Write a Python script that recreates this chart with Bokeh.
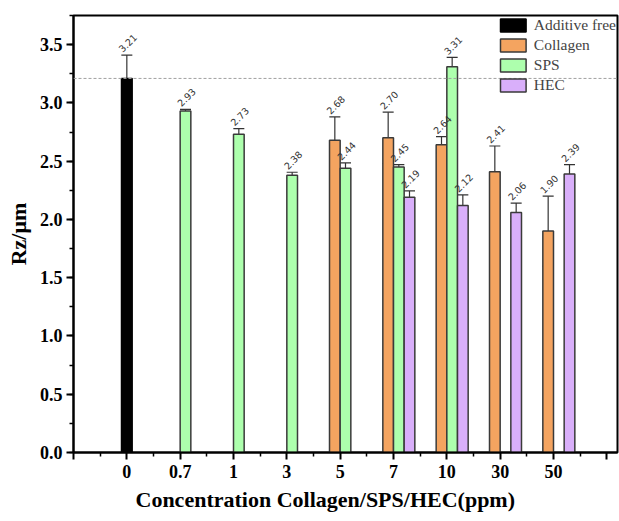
from bokeh.plotting import figure
from bokeh.models import (ColumnDataSource, FixedTicker, Whisker, TeeHead, Span,
                          Legend, LegendItem, NumeralTickFormatter, Range1d, Title)
from bokeh.core.properties import value
from bokeh.embed import file_html
from bokeh.resources import INLINE

# ---- data ----
categories = ["0", "0.7", "1", "3", "5", "7", "10", "30", "50"]

free_conc = ["0"]
free_val = [3.21]
free_err = [0.20]

collagen_conc = ["5", "7", "10", "30", "50"]
collagen_val = [2.68, 2.70, 2.64, 2.41, 1.90]
collagen_err = [0.20, 0.22, 0.07, 0.22, 0.30]

sps_conc = ["0.7", "1", "3", "5", "7", "10"]
sps_val = [2.93, 2.73, 2.38, 2.44, 2.45, 3.31]
sps_err = [0.015, 0.05, 0.025, 0.045, 0.02, 0.08]

hec_conc = ["7", "10", "30", "50"]
hec_val = [2.19, 2.12, 2.06, 2.39]
hec_err = [0.055, 0.09, 0.08, 0.08]

reference_line = 3.21
x_title = "Concentration Collagen/SPS/HEC(ppm)"
y_title = "Rz/μm"

# ---- style ----
SERIF = "Liberation Serif"
BAR_W = 0.2
OUTLINE = "#3a3a3a"

p = figure(width=619, height=521, output_backend="svg", toolbar_location=None,
           x_range=Range1d(-1, 9.2), y_range=Range1d(0, 3.75),
           min_border_left=73, min_border_top=15, min_border_right=2, min_border_bottom=69)
p.xgrid.visible = False
p.ygrid.visible = False
p.outline_line_color = "black"
p.outline_line_width = 2
p.background_fill_color = "white"

def make_src(conc, vals, errs, offset):
    xs = [categories.index(c) + offset for c in conc]
    return ColumnDataSource(dict(
        x=xs, top=vals,
        upper=[v + e for v, e in zip(vals, errs)],
        lower=[v - e for v, e in zip(vals, errs)],
        label=["%.2f" % v for v in vals],
    ))

series = [
    ("Additive free", free_conc, free_val, free_err, 0.0, "#000000"),
    ("Collagen", collagen_conc, collagen_val, collagen_err, -0.1, "#F4A460"),
    ("SPS", sps_conc, sps_val, sps_err, 0.1, "#ADFFAD"),
    ("HEC", hec_conc, hec_val, hec_err, 0.3, "#D9AFFA"),
]

span = Span(location=reference_line, dimension="width", line_color="#a0a0a0",
            line_dash="3 2", line_width=1)
p.add_layout(span)

items = []
sources = []
for name, conc, vals, errs, off, col in series:
    src = make_src(conc, vals, errs, off)
    sources.append(src)
    r = p.vbar(x="x", top="top", width=BAR_W, source=src, fill_color=col,
               line_color=OUTLINE if col != "#000000" else "#000000", line_width=1.5)
    items.append(LegendItem(label=name, renderers=[r]))
    w = Whisker(base="x", upper="upper", lower="lower", source=src,
                line_color="#333333", line_width=1.2,
                upper_head=TeeHead(size=11, line_color="#333333", line_width=1.2),
                lower_head=TeeHead(size=11, line_color="#333333", line_width=1.2))
    p.add_layout(w)

for src in sources:
    p.text(x="x", y="upper", text="label", source=src, angle=0.785,
           text_align="left", text_baseline="bottom", x_offset=-4, y_offset=-2,
           text_font=value("DejaVu Sans"), text_font_size="9.5px", text_color="#333333")

legend = Legend(items=items, location="top_right", margin=1, padding=0, spacing=2,
                glyph_width=32, glyph_height=16, label_height=16,
                label_text_font=SERIF, label_text_font_size="15.5px",
                label_standoff=5, border_line_color=None,
                background_fill_alpha=0)
p.add_layout(legend)

# axes
p.xaxis.ticker = FixedTicker(ticks=list(range(-1, 10)),
                             minor_ticks=[i + 0.5 for i in range(-1, 9)])
overrides = {i: c for i, c in enumerate(categories)}
overrides[-1] = ""
overrides[9] = ""
p.xaxis.major_label_overrides = overrides
p.yaxis.ticker = FixedTicker(ticks=[i * 0.5 for i in range(8)],
                             minor_ticks=[i * 0.25 for i in range(16)])
p.yaxis.formatter = NumeralTickFormatter(format="0.0")

for ax in (p.xaxis[0], p.yaxis[0]):
    ax.axis_line_width = 2
    ax.major_tick_line_width = 2
    ax.minor_tick_line_width = 1.5
    ax.major_tick_out = 7
    ax.major_tick_in = 0
    ax.minor_tick_out = 4
    ax.minor_tick_in = 0
    ax.major_label_text_font = SERIF
    ax.major_label_text_font_style = "bold"
    ax.major_label_text_font_size = "18px"
    ax.major_label_text_color = "black"
    ax.axis_label_text_font = SERIF
    ax.axis_label_text_font_style = "bold"
    ax.axis_label_text_color = "black"

p.xaxis.major_label_standoff = 5
p.yaxis.axis_label = y_title
p.yaxis.axis_label_text_font_size = "22px"
p.yaxis.axis_label_standoff = 6
p.yaxis.major_label_standoff = 4

xt = Title(text=x_title, align="left", offset=62, standoff=12, text_font=SERIF,
           text_font_style="bold", text_font_size="22px", text_color="black",
           vertical_align="top", text_line_height=0.8)
p.add_layout(xt, "below")

open("out.html", "w").write(file_html(p, INLINE))
